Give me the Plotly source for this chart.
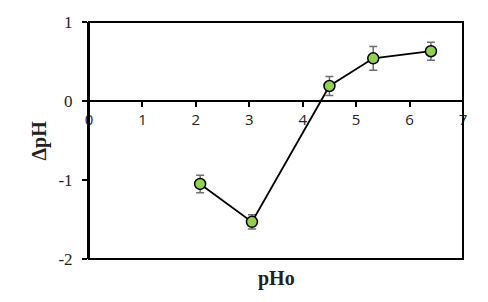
import plotly.graph_objects as go

pho = [2.08, 3.05, 4.50, 5.32, 6.40]
dph = [-1.05, -1.53, 0.19, 0.54, 0.63]
err = [0.11, 0.09, 0.12, 0.15, 0.115]
x_ticks = [0, 1, 2, 3, 4, 5, 6, 7]
y_ticks = [-2, -1, 0, 1]
y_labels = ["-2", "-1", "0", "1"]

fig = go.Figure()
fig.add_trace(go.Scatter(
    x=pho, y=dph, mode="lines+markers",
    line=dict(color="black", width=1.8),
    marker=dict(size=11, color="#92D050", line=dict(color="black", width=1.5)),
    error_y=dict(type="data", array=err, visible=True, color="#6e6e6e", thickness=1.5, width=4),
    showlegend=False,
))

fig.update_layout(
    width=488, height=302,
    margin=dict(l=89, r=25, t=22, b=43),
    plot_bgcolor="white", paper_bgcolor="white",
    xaxis=dict(range=[0, 7], tickvals=x_ticks, showgrid=False, zeroline=False,
               anchor="free", position=2/3, showline=True, linecolor="black", linewidth=2,
               ticks="outside", ticklen=5, tickwidth=1.5, tickcolor="black",
               tickfont=dict(family="Open Sans", size=15, color="#222")),
    yaxis=dict(range=[-2, 1], tickvals=y_ticks, ticktext=y_labels, showgrid=False, zeroline=False,
               domain=[0, 1],
               showline=True, linecolor="black", linewidth=2,
               ticks="outside", ticklen=5, tickwidth=1.5, tickcolor="black",
               ticklabelstandoff=6,
               tickfont=dict(family="Liberation Serif", size=17, color="#222")),
)
fig.add_shape(type="rect", xref="x domain", yref="y domain", x0=0, y0=0, x1=1, y1=1,
              line=dict(color="black", width=2), layer="above")
fig.add_annotation(text="<b>ΔpH</b>", xref="paper", yref="paper", x=(39 - 89) / 374, y=0.5,
                   xanchor="center", yanchor="middle",
                   textangle=-90, showarrow=False,
                   font=dict(family="Liberation Serif", size=20, color="#222"))
fig.add_annotation(text="<b>pHo</b>", xref="paper", yref="paper", x=0.5, y=(259 - 278) / 237,
                   xanchor="center", yanchor="middle", showarrow=False,
                   font=dict(family="Liberation Serif", size=20, color="#222"))

fig.write_html("out.html")
